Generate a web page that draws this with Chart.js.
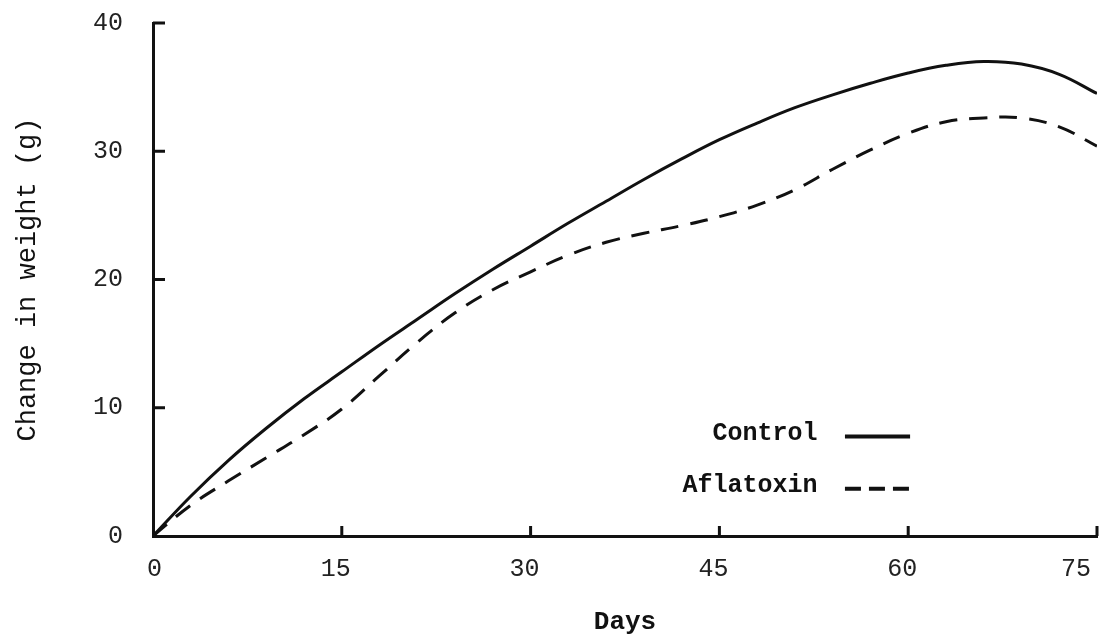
<!DOCTYPE html>
<html>
<head>
<meta charset="utf-8">
<script src="https://cdn.jsdelivr.net/npm/chart.js@4.4.1/dist/chart.umd.min.js"></script>
<style>
  html, body { margin: 0; padding: 0; background: #fff; }
  #wrap { width: 1102px; height: 641px; }
</style>
</head>
<body>
<div id="wrap"><canvas id="weightChart" width="1102" height="641"></canvas></div>
<script>
// values (days vs change in weight, g)
const days = [0, 3, 6, 9, 12, 15, 18, 21, 24, 27, 30, 33, 36, 39, 42, 45, 48, 51, 54, 57, 60, 63, 66, 69, 72, 75];
const control = [0, 3.1, 5.9, 8.4, 10.7, 12.8, 14.9, 16.9, 18.9, 20.8, 22.6, 24.4, 26.1, 27.8, 29.4, 30.9, 32.2, 33.4, 34.4, 35.3, 36.1, 36.7, 37.0, 36.8, 36.0, 34.5];
const aflatoxin = [0, 2.4, 4.3, 6.1, 7.9, 9.9, 12.5, 15.1, 17.4, 19.2, 20.6, 21.9, 22.9, 23.6, 24.2, 24.9, 25.8, 27.0, 28.6, 30.1, 31.4, 32.3, 32.6, 32.6, 31.9, 30.4];
const xTicks = [0, 15, 30, 45, 60, 75];
const yTicks = [0, 10, 20, 30, 40];
const seriesNames = ['Control', 'Aflatoxin'];

const ink = '#111';
Chart.defaults.font.family = "'Liberation Mono', 'DejaVu Sans Mono', monospace";
Chart.defaults.color = ink;

// tick marks point into the plot, like the original
const inwardTicks = {
  id: 'inwardTicks',
  afterDatasetsDraw(chart) {
    const { ctx, chartArea, scales: { x, y } } = chart;
    ctx.save();
    ctx.strokeStyle = ink;
    ctx.lineWidth = 3;
    ctx.beginPath();
    x.ticks.forEach(t => {
      if (t.value === 0) return;
      const px = x.getPixelForValue(t.value);
      ctx.moveTo(px, chartArea.bottom);
      ctx.lineTo(px, chartArea.bottom - 10);
    });
    y.ticks.forEach(t => {
      if (t.value === 0) return;
      const py = y.getPixelForValue(t.value);
      ctx.moveTo(chartArea.left, py);
      ctx.lineTo(chartArea.left + 12, py);
    });
    ctx.stroke();
    ctx.restore();
  }
};

// legend: label on the left, line sample on the right
const sideLegend = {
  id: 'sideLegend',
  afterDraw(chart) {
    const { ctx, chartArea } = chart;
    const w = chartArea.right - chartArea.left;
    const h = chartArea.bottom - chartArea.top;
    const textRight = chartArea.left + w * 0.704;
    const lineStart = chartArea.left + w * 0.733;
    const lineEnd = chartArea.left + w * 0.802;
    const rows = [0.800, 0.902];
    ctx.save();
    ctx.font = "bold 25px 'Liberation Mono', monospace";
    ctx.fillStyle = ink;
    ctx.textAlign = 'right';
    ctx.textBaseline = 'middle';
    chart.data.datasets.forEach((ds, i) => {
      const yy = chartArea.top + h * rows[i];
      ctx.fillText(ds.label, textRight, yy);
      ctx.strokeStyle = ds.borderColor;
      ctx.lineWidth = 4;
      ctx.setLineDash(ds.borderDash && ds.borderDash.length ? [16, 8] : []);
      ctx.beginPath();
      ctx.moveTo(lineStart, yy + 3);
      ctx.lineTo(lineEnd, yy + 3);
      ctx.stroke();
    });
    ctx.restore();
  }
};

const ctx = document.getElementById('weightChart').getContext('2d');
new Chart(ctx, {
  type: 'line',
  data: {
    datasets: [{
      label: seriesNames[0],
      data: days.map((d, i) => ({ x: d, y: control[i] })),
      borderColor: ink,
      borderWidth: 3,
      pointRadius: 0,
      tension: 0.4,
      fill: false
    }, {
      label: seriesNames[1],
      data: days.map((d, i) => ({ x: d, y: aflatoxin[i] })),
      borderColor: ink,
      borderWidth: 3,
      borderDash: [18, 12],
      pointRadius: 0,
      tension: 0.4,
      fill: false
    }]
  },
  options: {
    responsive: false,
    animation: false,
    devicePixelRatio: 1,
    layout: { padding: { left: 0, top: 23, right: 5, bottom: 0 } },
    plugins: {
      legend: { display: false },
      tooltip: { enabled: false }
    },
    scales: {
      x: {
        type: 'linear',
        min: 0,
        max: 75,
        afterBuildTicks: s => { s.ticks = xTicks.map(v => ({ value: v })); },
        afterFit: s => { s.height = 105; s.paddingLeft = 0; s.paddingRight = 0; },
        grid: { display: false, drawTicks: false },
        border: { display: true, color: ink, width: 3 },
        ticks: { align: 'inner', labelOffset: -6, padding: 18, font: { size: 25 }, color: '#222' },
        title: { display: true, text: 'Days', font: { size: 26, weight: 'bold' }, padding: { top: 0, bottom: 3 } }
      },
      y: {
        min: 0,
        max: 40,
        afterBuildTicks: s => { s.ticks = yTicks.map(v => ({ value: v })); },
        afterFit: s => { s.width = 153; s.paddingTop = 0; s.paddingBottom = 0; },
        grid: { display: false, drawTicks: false },
        border: { display: true, color: ink, width: 3 },
        ticks: { padding: 30, font: { size: 25 }, color: '#222' },
        title: { display: true, text: 'Change in weight (g)', font: { size: 27 }, padding: { top: 12, bottom: 0 } }
      }
    }
  },
  plugins: [inwardTicks, sideLegend]
});
</script>
</body>
</html>
